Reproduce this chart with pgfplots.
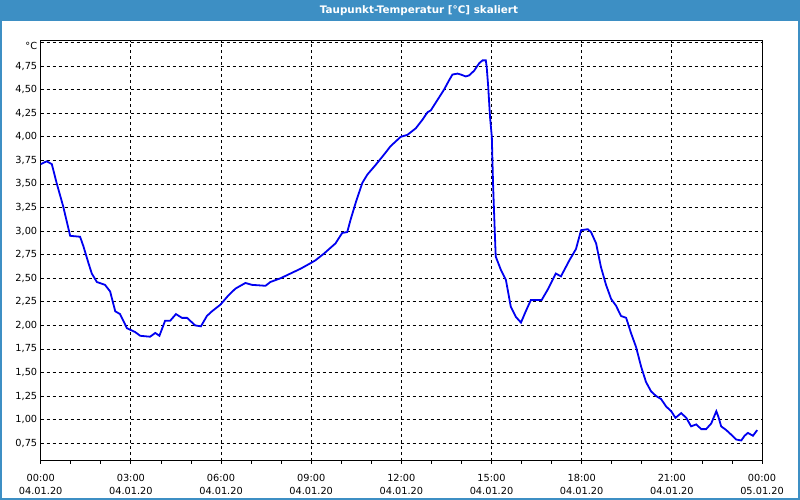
\documentclass[border=0pt]{standalone}
\usepackage{fontspec}
\setmainfont{DejaVu Sans}
\usepackage{pgfplots}
\pgfplotsset{compat=1.18}
\definecolor{barblue}{RGB}{61,143,196}
\definecolor{lineblue}{RGB}{0,0,240}

\begin{document}
\begin{tikzpicture}[x=1bp,y=1bp]
  % window background, title bar and frame
  \path[use as bounding box, fill=white] (0,0) rectangle (800,500);
  \fill[barblue] (0,479) rectangle (800,500);
  \draw[barblue, line width=2bp] (1,0) -- (1,500) (799,0) -- (799,500) (0,1) -- (800,1);
  \node[text=white, font=\fontsize{10.4}{12}\selectfont\bfseries] at (419,489.5) {Taupunkt-Temperatur [°C] skaliert};

  \begin{axis}[
      at={(40.7bp,39bp)}, anchor=south west,
      scale only axis,
      width=721.3bp, height=420.3bp,
      xmin=0, xmax=24,
      ymin=0.5623, ymax=5.019,
      axis line style={black, line width=1bp},
      xtick={0,3,...,24},
      minor xtick={1,2,4,5,7,8,10,11,13,14,16,17,19,20,22,23},
      xticklabels={00:00,03:00,06:00,09:00,12:00,15:00,18:00,21:00,00:00},
      xticklabel style={anchor=base, yshift=-18bp, font=\fontsize{9.8}{11}\selectfont},
      extra x ticks={0,3,...,24},
      extra x tick labels={04.01.20,04.01.20,04.01.20,04.01.20,04.01.20,04.01.20,04.01.20,04.01.20,05.01.20},
      extra x tick style={grid=none, major tick length=0pt,
        xticklabel style={yshift=-15.7bp}},
      xtick pos=bottom, xtick align=outside,
      major tick length=3bp, minor tick length=3bp,
      every tick/.style={black, line width=0.8bp},
      ytick={0.75,1,1.25,1.5,1.75,2,2.25,2.5,2.75,3,3.25,3.5,3.75,4,4.25,4.5,4.75},
      yticklabels={{0,75},{1,00},{1,25},{1,50},{1,75},{2,00},{2,25},{2,50},{2,75},
                   {3,00},{3,25},{3,50},{3,75},{4,00},{4,25},{4,50},{4,75}},
      yticklabel style={font=\fontsize{9.8}{11}\selectfont},
      extra y ticks={5},
      extra y tick labels={°C},
      extra y tick style={grid=major, yticklabel style={yshift=-3.5bp}},
      ytick style={draw=none},
      ytick pos=left,
      grid=major,
      major grid style={black, line width=0.8bp, dash pattern=on 3bp off 3bp},
    ]
    \addplot[lineblue, line width=1.8bp] coordinates {
      (0,3.71) (0.20,3.74) (0.37,3.71) (0.53,3.51) (0.75,3.26) (0.98,2.95)
      (1.31,2.94) (1.42,2.84) (1.59,2.66) (1.70,2.55) (1.87,2.46) (2.14,2.43)
      (2.31,2.36) (2.48,2.15) (2.64,2.12) (2.87,1.97) (3.14,1.93) (3.31,1.89)
      (3.64,1.88) (3.81,1.92) (3.95,1.89) (4.14,2.05) (4.31,2.05) (4.50,2.12)
      (4.70,2.08) (4.87,2.08) (5.14,2.00) (5.33,1.99) (5.53,2.10) (5.70,2.15)
      (5.98,2.22) (6.25,2.32) (6.48,2.39) (6.81,2.45) (7.03,2.43) (7.48,2.42)
      (7.64,2.46) (7.98,2.50) (8.31,2.55) (8.64,2.60) (8.98,2.66) (9.14,2.69)
      (9.42,2.76) (9.81,2.87) (10.03,2.98) (10.20,2.99) (10.31,3.12) (10.48,3.30)
      (10.70,3.51) (10.87,3.60) (11.14,3.70) (11.42,3.81) (11.64,3.90) (11.98,4.00)
      (12.20,4.02) (12.48,4.09) (12.70,4.18) (12.87,4.26) (12.98,4.28) (13.20,4.39)
      (13.42,4.50) (13.59,4.60) (13.70,4.66) (13.87,4.67) (13.98,4.66) (14.14,4.64)
      (14.25,4.65) (14.42,4.70) (14.59,4.78) (14.70,4.81) (14.81,4.81) (14.84,4.74)
      (14.89,4.53) (14.95,4.21) (15.01,4.00) (15.05,3.51) (15.11,2.98) (15.14,2.73)
      (15.31,2.59) (15.48,2.48) (15.64,2.20) (15.81,2.09) (15.98,2.03) (16.14,2.15)
      (16.31,2.27) (16.67,2.27) (16.87,2.38) (17.14,2.55) (17.31,2.52) (17.59,2.69)
      (17.81,2.81) (17.98,3.01) (18.20,3.02) (18.31,2.99) (18.48,2.87) (18.64,2.62)
      (18.81,2.43) (18.98,2.28) (19.14,2.21) (19.31,2.10) (19.48,2.08) (19.64,1.92)
      (19.81,1.77) (19.98,1.56) (20.14,1.40) (20.31,1.30) (20.48,1.25) (20.64,1.22)
      (20.81,1.14) (20.98,1.09) (21.12,1.02) (21.31,1.07) (21.48,1.02) (21.64,0.93)
      (21.81,0.95) (21.98,0.90) (22.14,0.90) (22.31,0.96) (22.48,1.09) (22.55,1.03)
      (22.64,0.93) (22.81,0.89) (22.98,0.84) (23.14,0.79) (23.31,0.78) (23.42,0.83)
      (23.53,0.86) (23.70,0.83) (23.84,0.89)
    };
  \end{axis}
\end{tikzpicture}
\end{document}
